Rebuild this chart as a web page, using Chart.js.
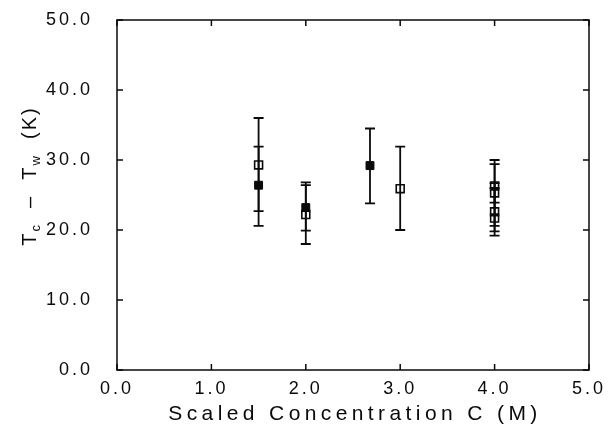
<!DOCTYPE html>
<html>
<head>
<meta charset="utf-8">
<script src="https://cdn.jsdelivr.net/npm/chart.js@4.4.1/dist/chart.umd.min.js"></script>
<style>
  html, body { margin: 0; padding: 0; background: #fff; }
  #wrap { width: 608px; height: 439px; }
</style>
</head>
<body>
<div id="wrap"><canvas id="chart"></canvas></div>
<script>
// values
const openX  = [1.5, 2.0, 3.0, 4.0, 4.0, 4.0, 4.0];
const openY  = [29.3, 22.2, 25.9, 26.3, 25.3, 22.6, 21.7];
const openLo = [22.7, 18.0, 20.0, 19.8, 23.9, 19.2, 20.6];
const openHi = [36.0, 26.8, 31.9, 30.0, 26.7, 26.0, 29.4];

const filledX  = [1.5, 2.0, 2.68];
const filledY  = [26.4, 23.2, 29.2];
const filledLo = [20.6, 19.9, 23.8];
const filledHi = [31.9, 26.4, 34.5];

const xTicks = [0, 1, 2, 3, 4, 5];
const yTicks = [0, 10, 20, 30, 40, 50];
const xTitle = "Scaled Concentration C (M)";

const ink = "#0a0a0a";
const FONT = "'Liberation Sans', Arial, Helvetica, sans-serif";

const toPoints = (xs, ys) => xs.map((x, i) => ({ x: x, y: ys[i] }));

// error bars, drawn under the squares
const errorBars = {
    id: "errorBars",
    beforeDatasetsDraw(chart) {
        const { ctx, scales: { x, y } } = chart;
        const groups = [[openX, openLo, openHi], [filledX, filledLo, filledHi]];
        ctx.save();
        ctx.strokeStyle = ink;
        ctx.lineWidth = 1.8;
        groups.forEach(([xs, lo, hi]) => {
            xs.forEach((v, i) => {
                const px = x.getPixelForValue(v);
                const y1 = y.getPixelForValue(lo[i]);
                const y2 = y.getPixelForValue(hi[i]);
                ctx.beginPath();
                ctx.moveTo(px, y1); ctx.lineTo(px, y2);
                ctx.moveTo(px - 5, y1); ctx.lineTo(px + 5, y1);
                ctx.moveTo(px - 5, y2); ctx.lineTo(px + 5, y2);
                ctx.stroke();
            });
        });
        ctx.restore();
    }
};

// frame, inward ticks on all four sides, axis titles
const frame = {
    id: "frame",
    beforeDraw(chart) {
        chart.ctx.letterSpacing = "3px";
    },
    afterDraw(chart) {
        const { ctx, chartArea: a, scales: { x, y } } = chart;
        ctx.save();
        ctx.strokeStyle = ink;
        ctx.lineWidth = 1.5;
        ctx.strokeRect(a.left, a.top, a.right - a.left, a.bottom - a.top);
        ctx.beginPath();
        xTicks.forEach(v => {
            const px = x.getPixelForValue(v);
            ctx.moveTo(px, a.bottom); ctx.lineTo(px, a.bottom - 6);
            ctx.moveTo(px, a.top); ctx.lineTo(px, a.top + 6);
        });
        yTicks.forEach(v => {
            const py = y.getPixelForValue(v);
            ctx.moveTo(a.left, py); ctx.lineTo(a.left + 6, py);
            ctx.moveTo(a.right, py); ctx.lineTo(a.right - 6, py);
        });
        ctx.stroke();

        ctx.fillStyle = ink;

        // x title, wide tracking like the scan
        ctx.font = "21px " + FONT;
        ctx.letterSpacing = "4.4px";
        ctx.textAlign = "left";
        ctx.textBaseline = "middle";
        const w = ctx.measureText(xTitle).width;
        ctx.fillText(xTitle, (a.left + a.right) / 2 - w / 2 + 2, 414);

        // T_c − T_w (K)
        const parts = [
            ["T", 20, 0], ["c", 13, 4], ["  \u2013  ", 20, 0],
            ["T", 20, 0], ["w", 13, 4], ["  (K)", 20, 0]
        ];
        ctx.textBaseline = "alphabetic";
        ctx.letterSpacing = "2px";
        let total = 0;
        parts.forEach(p => { ctx.font = p[1] + "px " + FONT; total += ctx.measureText(p[0]).width; });
        ctx.translate(36, 176);
        ctx.rotate(-Math.PI / 2);
        let cx = -total / 2;
        parts.forEach(p => {
            ctx.font = p[1] + "px " + FONT;
            ctx.fillText(p[0], cx, p[2]);
            cx += ctx.measureText(p[0]).width;
        });
        ctx.restore();
    }
};

new Chart(document.getElementById("chart"), {
    type: "scatter",
    data: {
        datasets: [
            {
                label: "open",
                data: toPoints(openX, openY),
                pointStyle: "rect",
                pointRadius: 5.6,
                pointBorderWidth: 1.6,
                pointBorderColor: ink,
                pointBackgroundColor: "rgba(255,255,255,0)"
            },
            {
                label: "filled",
                data: toPoints(filledX, filledY),
                pointStyle: "rect",
                pointRadius: 5.6,
                pointBorderWidth: 1,
                pointBorderColor: ink,
                pointBackgroundColor: ink
            }
        ]
    },
    options: {
        responsive: true,
        maintainAspectRatio: false,
        animation: false,
        events: [],
        layout: { padding: { top: 20, right: 19, left: 0, bottom: 0 } },
        plugins: { legend: { display: false }, tooltip: { enabled: false } },
        scales: {
            x: {
                type: "linear",
                min: 0, max: 5,
                afterBuildTicks: s => { s.ticks = xTicks.map(v => ({ value: v })); },
                afterFit: s => { s.height = 69; s.paddingLeft = 0; s.paddingRight = 0; },
                grid: { display: false },
                border: { display: false },
                ticks: {
                    color: ink, padding: 0,
                    font: { family: FONT, size: 18 },
                    callback: v => v.toFixed(1)
                }
            },
            y: {
                type: "linear",
                min: 0, max: 50,
                afterBuildTicks: s => { s.ticks = yTicks.map(v => ({ value: v })); },
                afterFit: s => { s.width = 117; s.paddingTop = 0; s.paddingBottom = 0; },
                grid: { display: false },
                border: { display: false },
                ticks: {
                    color: ink, padding: 16,
                    font: { family: FONT, size: 18 },
                    callback: v => v.toFixed(1)
                }
            }
        }
    },
    plugins: [errorBars, frame]
});
</script>
</body>
</html>
